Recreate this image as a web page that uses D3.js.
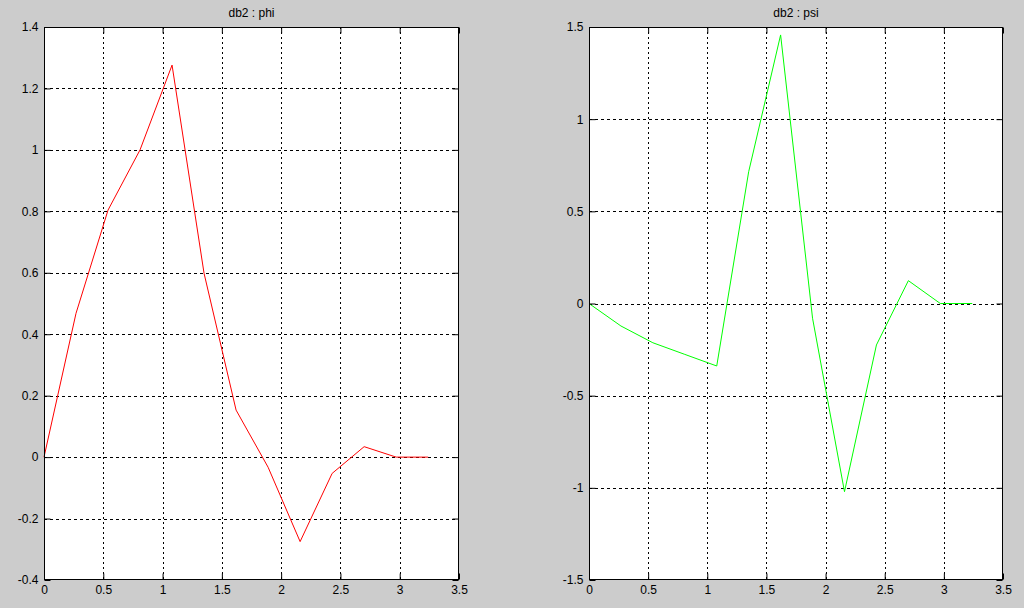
<!DOCTYPE html>
<html><head><meta charset="utf-8">
<script src="https://cdn.jsdelivr.net/npm/d3@7"></script>
<style>html,body{margin:0;padding:0;background:#cccccc;} svg{display:block}</style>
</head><body><svg id="c" width="1024" height="608"></svg>
<script>
const xSamples = [0, 0.27, 0.54, 0.81, 1.08, 1.35, 1.62, 1.89, 2.16, 2.43, 2.70, 2.97, 3.24];
const phiValues = [0, 0.468, 0.804, 1.0, 1.276, 0.598, 0.153, -0.033, -0.275, -0.053, 0.034, 0, 0];
const psiValues = [0, -0.122, -0.213, -0.276, -0.339, 0.715, 1.457, -0.08, -1.021, -0.225, 0.124, 0, 0];
const xTicks = [0, 0.5, 1, 1.5, 2, 2.5, 3, 3.5];
const phiYTicks = [-0.4, -0.2, 0, 0.2, 0.4, 0.6, 0.8, 1, 1.2, 1.4];
const psiYTicks = [-1.5, -1, -0.5, 0, 0.5, 1, 1.5];
const titles = ["db2 : phi", "db2 : psi"];
const lineColors = ["#ff0000", "#00ff00"];

const panels = [
  {title: titles[0], values: phiValues, yTicks: phiYTicks, color: lineColors[0], box: [44, 27, 459, 580]},
  {title: titles[1], values: psiValues, yTicks: psiYTicks, color: lineColors[1], box: [589, 27, 1003, 580]}
];

const svg = d3.select("#c");
const font = "Arial, 'Liberation Sans', sans-serif";
const fmt = v => String(Math.round(v * 100) / 100);

panels.forEach(p => {
  const [x0, y0, x1, y1] = p.box;
  const x = d3.scaleLinear().domain([0, 3.5]).range([x0, x1]);
  const y = d3.scaleLinear().domain([p.yTicks[0], p.yTicks[p.yTicks.length - 1]]).range([y1, y0]);
  const g = svg.append("g");

  g.append("rect").attr("x", x0).attr("y", y0).attr("width", x1 - x0).attr("height", y1 - y0)
    .attr("fill", "#ffffff");

  // grid
  g.append("g").selectAll("line").data(xTicks.slice(1, -1)).join("line")
    .attr("x1", d => Math.round(x(d)) + 0.5).attr("x2", d => Math.round(x(d)) + 0.5)
    .attr("y1", y0).attr("y2", y1)
    .attr("stroke", "#000").attr("stroke-width", 1).attr("stroke-dasharray", "2,3");
  g.append("g").selectAll("line").data(p.yTicks.slice(1, -1)).join("line")
    .attr("y1", d => Math.round(y(d)) + 0.5).attr("y2", d => Math.round(y(d)) + 0.5)
    .attr("x1", x0).attr("x2", x1)
    .attr("stroke", "#000").attr("stroke-width", 1).attr("stroke-dasharray", "3,3");

  // data line
  const line = d3.line().x((d, i) => x(xSamples[i])).y(d => y(d));
  g.append("path").datum(p.values).attr("d", line)
    .attr("fill", "none").attr("stroke", p.color).attr("stroke-width", 1);

  // axes
  const styleAxis = (sel, showText) => {
    sel.select(".domain").remove();
    sel.selectAll(".tick line").attr("stroke", "#000");
    sel.selectAll("text").attr("fill", "#000").style("font-family", font).style("font-size", "12px");
    if (!showText) sel.selectAll("text").remove();
  };
  g.append("g").attr("transform", `translate(${x0 + 0.5},0)`)
    .call(d3.axisLeft(y).tickValues(p.yTicks).tickFormat(fmt).tickSize(-6).tickPadding(6))
    .call(s => styleAxis(s, true));
  g.append("g").attr("transform", `translate(${x1 - 0.5},0)`)
    .call(d3.axisRight(y).tickValues(p.yTicks).tickSize(-6))
    .call(s => styleAxis(s, false));
  g.append("g").attr("transform", `translate(0,${y1 - 0.5})`)
    .call(d3.axisBottom(x).tickValues(xTicks).tickFormat(fmt).tickSize(-6).tickPadding(6))
    .call(s => styleAxis(s, true));
  g.append("g").attr("transform", `translate(0,${y0 + 0.5})`)
    .call(d3.axisTop(x).tickValues(xTicks).tickSize(-6))
    .call(s => styleAxis(s, false));

  g.append("rect").attr("x", x0 + 0.5).attr("y", y0 + 0.5).attr("width", x1 - x0 - 1).attr("height", y1 - y0 - 1)
    .attr("fill", "none").attr("stroke", "#000").attr("stroke-width", 1);

  g.append("text").attr("x", (x0 + x1) / 2).attr("y", 17).attr("text-anchor", "middle")
    .style("font-family", font).style("font-size", "12px").attr("fill", "#000").text(p.title);
});
</script>
</body></html>
